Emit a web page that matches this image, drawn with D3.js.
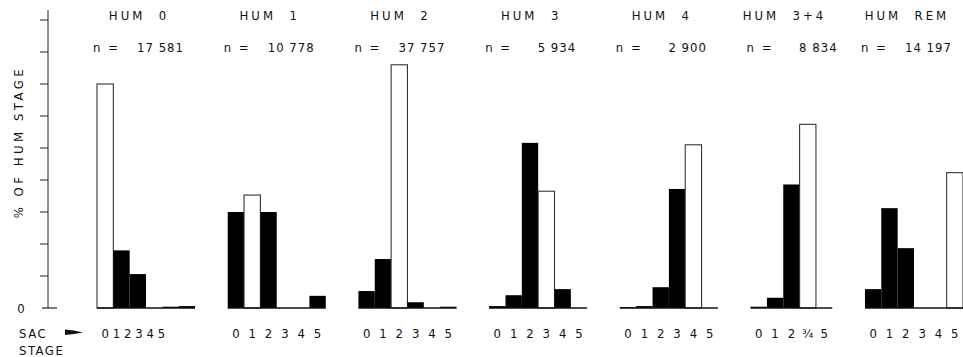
<!DOCTYPE html>
<html>
<head>
<meta charset="utf-8">
<script src="https://cdn.jsdelivr.net/npm/d3@7"></script>
<style>
  body { margin: 0; background: #fff; }
  svg { display: block; font-family: "DejaVu Sans Condensed", "DejaVu Sans", sans-serif; }
  text { white-space: pre; fill: #111; }
</style>
</head>
<body>
<div class="chart"></div>
<script>
// panel titles and sample sizes
const panels = ["HUM  0", "HUM  1", "HUM  2", "HUM  3", "HUM  4", "HUM  3+4", "HUM  REM"];
const counts = ["17 581", "10 778", "37 757", "5 934", "2 900", "8 834", "14 197"];

// SAC stage categories for each panel
const stages = [
  ["0", "1", "2", "3", "4", "5"],
  ["0", "1", "2", "3", "4", "5"],
  ["0", "1", "2", "3", "4", "5"],
  ["0", "1", "2", "3", "4", "5"],
  ["0", "1", "2", "3", "4", "5"],
  ["0", "1", "2", "¾", "5"],
  ["0", "1", "2", "3", "4", "5"]
];

// which SAC stage matches the HUM stage (drawn open)
const matchIndex = [0, 1, 2, 3, 4, 3, 5];

// % of HUM stage
const values = [
  [70, 18, 10.6, 0, 0.4, 0.6],
  [30, 35.3, 30, 0, 0, 3.8],
  [5.3, 15.3, 76, 1.8, 0, 0.4],
  [0.6, 4, 51.6, 36.5, 5.9, 0],
  [0.3, 0.6, 6.5, 37.2, 51, 0],
  [0.4, 3.2, 38.6, 57.4, 0],
  [5.9, 31.2, 18.7, 0, 0, 42.3]
];

const yTicks = [10, 20, 30, 40, 50, 60, 70, 80, 90];

const width = 963, height = 357;
const gapSlots = 2;

const svg = d3.select(".chart").append("svg")
  .attr("width", width)
  .attr("height", height);

// each bar takes one slot, panels separated by a gap of two slots
const starts = [];
let slot = 0;
stages.forEach(s => { starts.push(slot); slot += s.length + gapSlots; });
const totalSlots = slot - gapSlots;

const x = d3.scaleLinear().domain([0, totalSlots]).range([97, 963]);
const y = d3.scaleLinear().domain([0, 90]).range([308, 20]);
const slotW = x(1) - x(0);

// y axis
const axisX = 48;
svg.append("line")
  .attr("x1", axisX).attr("x2", axisX)
  .attr("y1", 10).attr("y2", y(0))
  .attr("stroke", "#222").attr("stroke-width", 1);

svg.selectAll(".ytick")
  .data(yTicks)
  .enter()
  .append("line")
  .attr("class", "ytick")
  .attr("x1", axisX - 8).attr("x2", axisX)
  .attr("y1", d => y(d)).attr("y2", d => y(d))
  .attr("stroke", "#222").attr("stroke-width", 1);

svg.append("line")
  .attr("x1", axisX - 6).attr("x2", axisX + 9)
  .attr("y1", y(0)).attr("y2", y(0))
  .attr("stroke", "#222").attr("stroke-width", 1.2);

svg.append("text")
  .attr("x", 21).attr("y", y(0) + 5)
  .attr("text-anchor", "middle")
  .attr("font-size", 13)
  .text("0");

svg.append("text")
  .attr("transform", "translate(23,142) rotate(-90)")
  .attr("text-anchor", "middle")
  .attr("font-size", 13)
  .attr("letter-spacing", 3.5)
  .text("% OF HUM STAGE");

// SAC stage note with arrow
svg.append("text")
  .attr("x", 19).attr("y", 338)
  .attr("font-size", 13)
  .attr("letter-spacing", 1.5)
  .text("SAC");
svg.append("text")
  .attr("x", 19).attr("y", 355)
  .attr("font-size", 13)
  .attr("letter-spacing", 1.5)
  .text("STAGE");
svg.append("path")
  .attr("d", "M65,329.5 L74,330.5 L83,332.5 L74,334 L65,335 Z")
  .attr("fill", "#111");

// panels
panels.forEach((name, p) => {
  const vals = values[p];
  const s0 = starts[p];
  const n = vals.length;
  const left = x(s0), right = x(s0 + n);
  const mid = (left + right) / 2;
  const g = svg.append("g").attr("class", "panel");

  g.append("text")
    .attr("x", mid - 7).attr("y", 20)
    .attr("text-anchor", "middle")
    .attr("font-size", 13)
    .attr("letter-spacing", 3)
    .text(name);

  g.append("text")
    .attr("x", left - 4).attr("y", 52)
    .attr("font-size", 13)
    .attr("letter-spacing", 2)
    .text("n =");

  g.append("text")
    .attr("x", left - 4 + 91).attr("y", 52)
    .attr("text-anchor", "end")
    .attr("font-size", 13)
    .attr("letter-spacing", 1)
    .text(counts[p]);

  g.selectAll(".bar")
    .data(vals)
    .enter()
    .append("rect")
    .attr("class", "bar")
    .attr("x", (d, i) => x(s0 + i))
    .attr("width", slotW)
    .attr("y", d => y(d))
    .attr("height", d => y(0) - y(d))
    .attr("fill", (d, i) => i === matchIndex[p] ? "#fff" : "#000")
    .attr("stroke", (d, i) => i === matchIndex[p] ? "#333" : "none")
    .attr("stroke-width", 1.1);

  // baseline
  g.append("line")
    .attr("x1", left).attr("x2", right)
    .attr("y1", y(0)).attr("y2", y(0))
    .attr("stroke", "#111").attr("stroke-width", 1.6);

  // stage labels (first panel's are set tighter in the original)
  const spread = p === 0 ? 0.69 : 1;
  g.selectAll(".stage")
    .data(stages[p])
    .enter()
    .append("text")
    .attr("class", "stage")
    .attr("x", (d, i) => x(s0 + 0.5) + i * slotW * spread)
    .attr("y", 338)
    .attr("text-anchor", "middle")
    .attr("font-size", 13)
    .text(d => d);
});
</script>
</body>
</html>
